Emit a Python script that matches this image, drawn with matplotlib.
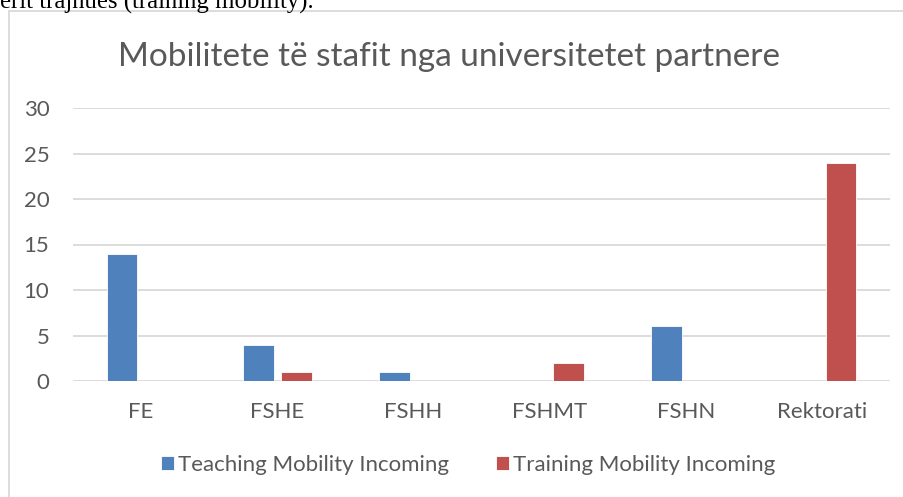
import matplotlib
matplotlib.use("Agg")
import matplotlib.pyplot as plt
import numpy as np
from matplotlib.patches import Rectangle

categories = ["FE", "FSHE", "FSHH", "FSHMT", "FSHN", "Rektorati"]
teaching = [14, 4, 1, 0, 6, 0]
training = [0, 1, 0, 2, 0, 24]
series_names = ["Teaching Mobility Incoming", "Training Mobility Incoming"]
title = "Mobilitete të stafit nga universitetet partnere"
yticks = [0, 5, 10, 15, 20, 25, 30]

W, H = 904, 497
fig = plt.figure(figsize=(W / 100, H / 100), dpi=100)
fig.patch.set_facecolor("white")

font = "Lato"
txt_color = "#595959"
lab_size = 16

# clipped document text above the chart
fig.text(0 / W, (H - 9) / H, "erit trajnues (training mobility).", fontsize=17.8,
         family="Liberation Serif", color="black", ha="left", va="baseline")

# chart frame
fig.patches.append(Rectangle((8.5 / W, -0.1), 1.2, (H - 10.5) / H + 0.1,
                             transform=fig.transFigure, fill=False,
                             edgecolor="#D9D9D9", linewidth=1.3))

ax = fig.add_axes([73 / W, (H - 381) / H, 817 / W, 273 / H])
x = np.arange(len(categories))
bw = 0.225
off = 0.14
ax.bar(x - off, teaching, bw, color="#4F81BD", edgecolor="white", linewidth=0.6,
       label=series_names[0], zorder=3)
ax.bar(x + off, training, bw, color="#C0504D", edgecolor="white", linewidth=0.6,
       label=series_names[1], zorder=3)

ax.set_xlim(-0.5, len(categories) - 0.5)
ax.set_ylim(0, 30)
ax.set_yticks(yticks)
ax.set_yticklabels([str(v) for v in yticks], fontsize=lab_size, family=font, color=txt_color)
ax.set_xticks(x)
ax.set_xticklabels(categories, fontsize=lab_size, family=font, color=txt_color)
ax.tick_params(axis="both", length=0)
ax.tick_params(axis="y", pad=17)
ax.tick_params(axis="x", pad=15)
ax.grid(axis="y", color="#D9D9D9", linewidth=1.3, zorder=0)
for s in ax.spines.values():
    s.set_visible(False)
ax.set_facecolor("none")

fig.text(449 / W, (H - 57) / H, title, fontsize=24, family=font, color=txt_color,
         ha="center", va="center")

handles, labels = ax.get_legend_handles_labels()
leg = fig.legend(handles, labels, loc="center", bbox_to_anchor=(468 / W, (H - 465) / H),
                 ncol=2, frameon=False, prop={"family": font, "size": lab_size},
                 handlelength=0.6, handleheight=0.6, handletextpad=0.18,
                 columnspacing=2.1)
for t in leg.get_texts():
    t.set_color(txt_color)

fig.savefig("out.png", dpi=100)
